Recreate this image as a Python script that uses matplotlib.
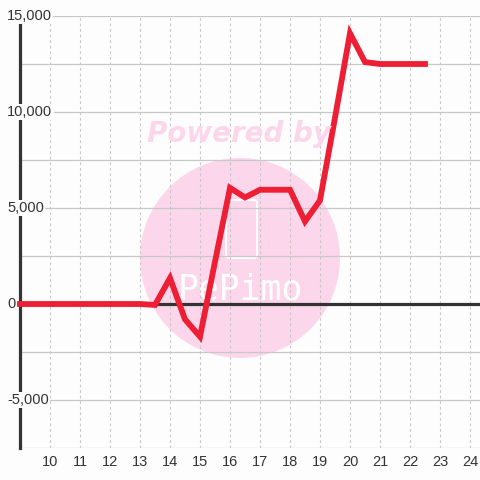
import matplotlib
matplotlib.use("Agg")
from matplotlib import pyplot as plt
from matplotlib import patches, transforms

# data
xs = [9, 9.5, 10, 10.5, 11, 11.5, 12, 12.5, 13, 13.5, 14, 14.5, 15, 15.5,
      16, 16.5, 17, 17.5, 18, 18.5, 19, 19.5, 20, 20.5, 21, 21.5, 22, 22.5]
ys = [0, 0, 0, 0, 0, 0, 0, 0, 0, -50, 1350, -800, -1700, 2200,
      6050, 5550, 5950, 5950, 5950, 4300, 5400, 9700, 14100, 12600, 12500, 12500, 12500, 12500]
xticks = [10, 11, 12, 13, 14, 15, 16, 17, 18, 19, 20, 21, 22, 23, 24]
ygrid = [-7500, -5000, -2500, 0, 2500, 5000, 7500, 10000, 12500, 15000]
ylabels = {15000: "15,000", 10000: "10,000", 5000: "5,000", 0: "0", -5000: "-5,000"}

bg = "#fcfdfc"
plt.rcParams['font.family'] = ['Liberation Sans', 'DejaVu Sans']

fig = plt.figure(figsize=(4.8, 4.8), dpi=100, facecolor=bg)
ax = fig.add_axes([20/480, 1-448/480, 460/480, 432/480])
ax.set_facecolor(bg)
ax.set_xlim(9, 9 + 460/30)
ax.set_ylim(-7500, 15000)
ax.set_axisbelow(True)

# watermark
circ = patches.Circle((0.5, 1-258/480), 100/480, transform=fig.transFigure,
                      facecolor="#fcd6ea", edgecolor="none", zorder=0.3)
ax.add_patch(circ)
phone = patches.FancyBboxPatch((226/480, 1-258/480), 31/480, 58/480,
                               boxstyle="round,pad=0,rounding_size=0.006",
                               transform=fig.transFigure, facecolor="none",
                               edgecolor="white", lw=1.3, zorder=0.35)
ax.add_patch(phone)
fig.text(0.497, 1-134/480, "Powered by", color="#fcd6ea", fontsize=20,
         fontweight="bold", fontstyle="italic", family="DejaVu Sans",
         ha="center", va="center", zorder=0.4)
ax.text(0.5, 1-289/480, "PePimo", transform=fig.transFigure, color="white",
        fontsize=25, family="DejaVu Sans Mono", ha="center", va="center", zorder=0.35)

# grid
ax.set_xticks(xticks)
ax.set_yticks(ygrid)
ax.set_yticklabels([])
for xv in xticks:
    ax.axvline(xv, color="#c8c8c8", lw=0.8, ls=(0, (2.5, 2.5)), zorder=0.5)
ax.grid(axis="y", color="#c8c8c8", lw=0.9)
ax.tick_params(axis="both", length=0)
ax.tick_params(axis="x", pad=5, labelsize=10.5, labelcolor="#333333")

for s in ["top", "right", "bottom"]:
    ax.spines[s].set_visible(False)
ax.spines["left"].set_color("#333333")
ax.spines["left"].set_linewidth(2.3)

ax.axhline(0, color="#333333", lw=2.3, zorder=2)

# y labels sit over the axis line
trans = transforms.blended_transform_factory(ax.transAxes, ax.transData)
for v, lab in ylabels.items():
    ax.text(-13/460, v, lab, transform=trans, ha="left", va="center",
            fontsize=10.5, color="#333333", clip_on=False, zorder=4,
            bbox=dict(facecolor=bg, edgecolor="none", pad=1))

ax.plot(xs, ys, color="#ee1f35", lw=4.2, solid_joinstyle="miter",
        solid_capstyle="projecting", zorder=3, clip_on=False)

fig.savefig("out.png", dpi=100, facecolor=bg)
